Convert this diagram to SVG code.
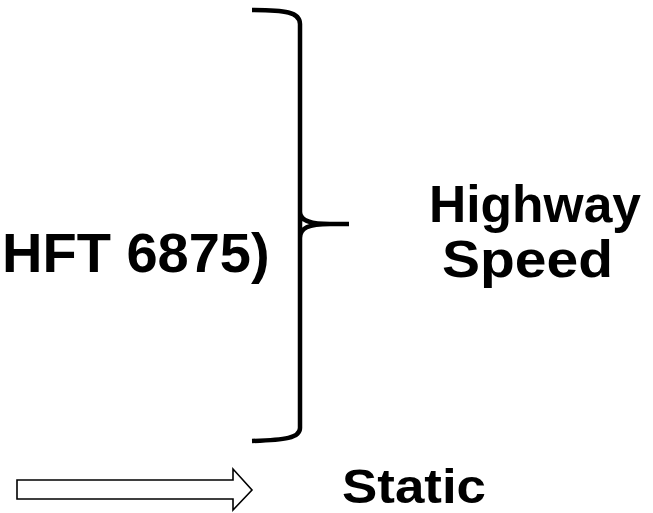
<svg xmlns="http://www.w3.org/2000/svg" width="653" height="513" viewBox="0 0 653 513">
<style>
.t{font-family:"Liberation Sans",Arial,sans-serif;font-weight:bold;fill:#000}
.brace{fill:none;stroke:#000;stroke-width:4.5;stroke-linecap:butt;stroke-linejoin:round}
</style>
<rect width="653" height="513" fill="#fff"/>
<g id="label-hft"><text class="t" x="2" y="272" font-size="56">HFT 6875)</text></g>
<g id="brace">
<path class="brace" d="M252,10 C285,10 300,12 300,24 L300,212 C300,220 308,224 330,224 L349,224 M300,238 C300,228 308,224 330,224 M300,212 L300,238 L300,428 C300,438 285,440 252,441"/>
</g>
<g id="label-highway"><text class="t" x="429" y="222" font-size="52" textLength="212" lengthAdjust="spacingAndGlyphs">Highway</text>
<text class="t" x="442" y="277" font-size="52" textLength="171" lengthAdjust="spacingAndGlyphs">Speed</text></g>
<g id="arrow"><path d="M17,480 L233,480 L233,469 L252,490 L233,510 L233,499 L17,499 Z" fill="#fff" stroke="#000" stroke-width="1.6" stroke-linejoin="miter"/></g>
<g id="label-static"><text class="t" x="342" y="503" font-size="48" textLength="144" lengthAdjust="spacingAndGlyphs">Static</text></g>
</svg>
